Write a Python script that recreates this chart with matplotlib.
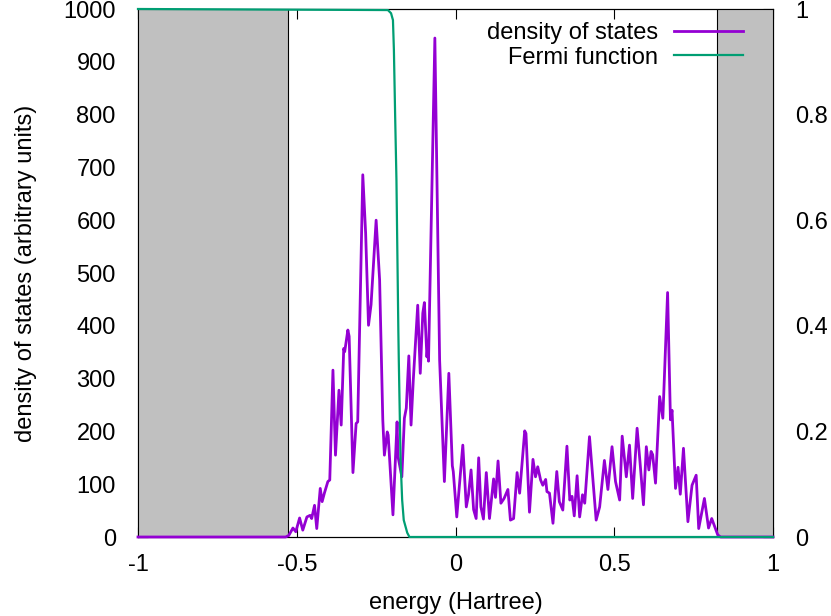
import matplotlib
matplotlib.use("Agg")
import matplotlib.pyplot as plt
from matplotlib.transforms import blended_transform_factory

plt.rcParams["font.family"] = ["Liberation Sans", "DejaVu Sans"]

# density of states
energy = [
    -1.0, -0.535, -0.525, -0.512, -0.503, -0.491, -0.481, -0.468, -0.458, -0.453,
    -0.444, -0.437, -0.426, -0.420, -0.413, -0.402, -0.396, -0.386, -0.378, -0.367,
    -0.360, -0.352, -0.349, -0.339, -0.335, -0.323, -0.313, -0.308, -0.292, -0.283,
    -0.274, -0.266, -0.250, -0.239, -0.229, -0.224, -0.215, -0.212, -0.197, -0.184,
    -0.181, -0.169, -0.161, -0.155, -0.147, -0.140, -0.133, -0.119, -0.111, -0.103,
    -0.098, -0.090, -0.087, -0.085, -0.065, -0.050, -0.035, -0.021, -0.010, -0.007,
    0.004, 0.023, 0.034, 0.041, 0.049, 0.057, 0.065, 0.073, 0.080, 0.088,
    0.097, 0.107, 0.120, 0.126, 0.134, 0.143, 0.153, 0.165, 0.173, 0.183,
    0.194, 0.202, 0.218, 0.222, 0.233, 0.244, 0.252, 0.259, 0.268, 0.275,
    0.284, 0.288, 0.296, 0.307, 0.319, 0.327, 0.338, 0.351, 0.360, 0.367,
    0.374, 0.383, 0.391, 0.400, 0.407, 0.422, 0.443, 0.454, 0.469, 0.480,
    0.493, 0.504, 0.517, 0.525, 0.538, 0.548, 0.558, 0.572, 0.581, 0.592,
    0.601, 0.609, 0.616, 0.621, 0.630, 0.643, 0.653, 0.668, 0.677, 0.682,
    0.693, 0.701, 0.708, 0.718, 0.732, 0.745, 0.758, 0.766, 0.784, 0.797,
    0.807, 0.826, 0.835, 1.0,
]
dos = [
    0, 0, 3, 17, 10, 36, 13, 38, 41, 35,
    60, 16, 92, 67, 83, 105, 108, 316, 155, 278,
    212, 357, 351, 392, 380, 122, 215, 218, 686, 575,
    401, 440, 600, 487, 222, 155, 199, 193, 42, 218,
    152, 114, 225, 244, 343, 212, 297, 439, 310, 424,
    444, 341, 364, 333, 945, 335, 105, 310, 135, 124,
    38, 174, 57, 80, 127, 52, 35, 150, 57, 34,
    122, 35, 110, 75, 144, 64, 73, 90, 32, 35,
    122, 83, 201, 196, 47, 147, 114, 133, 108, 98,
    109, 86, 83, 26, 124, 67, 51, 172, 70, 77,
    40, 116, 38, 80, 64, 190, 32, 57, 145, 90,
    171, 105, 70, 191, 114, 174, 73, 206, 143, 61,
    171, 127, 162, 156, 102, 266, 225, 463, 222, 240,
    92, 132, 81, 168, 29, 98, 117, 16, 73, 17,
    35, 4, 0, 0,
]

# Fermi function (right axis)
fermi_energy = [-1.0, -0.213, -0.203, -0.197, -0.194, -0.190, -0.186, -0.180,
                -0.1786, -0.173, -0.168, -0.163, -0.152, -0.145, 1.0]
fermi = [1.0, 0.998, 0.992, 0.979, 0.922, 0.795, 0.676, 0.39,
         0.335, 0.146, 0.07, 0.032, 0.008, 0.0, 0.0]

# shaded energy windows
gap_left = (-1.0, -0.526)
gap_right = (0.825, 1.0)

x_ticks = [-1, -0.5, 0, 0.5, 1]
x_ticklabels = ["-1", "-0.5", "0", "0.5", "1"]
y_ticks = list(range(0, 1001, 100))
y2_ticks = [0, 0.2, 0.4, 0.6, 0.8, 1.0]
y2_ticklabels = ["0", "0.2", "0.4", "0.6", "0.8", "1"]

FS = 17

fig = plt.figure(figsize=(8.31, 6.16), dpi=100)
ax = fig.add_axes([138 / 831, 79 / 616, 635 / 831, 528 / 616])
ax2 = ax.twinx()
ax.set_zorder(ax2.get_zorder() + 1)
ax.patch.set_visible(False)

ax.set_xlim(-1, 1)
ax.set_ylim(0, 1000)
ax2.set_ylim(0, 1)

for lo, hi in (gap_left, gap_right):
    ax.axvspan(lo, hi, facecolor="#c0c0c0", edgecolor="black", lw=0.8, zorder=2.6)

ax.plot(energy, dos, color="#9400d3", lw=2.0, zorder=4, label="density of states",
        clip_on=False)
fermi_tr = blended_transform_factory(ax.transData, ax2.transData)
ax.plot(fermi_energy, fermi, color="#009e73", lw=1.6, zorder=4,
        transform=fermi_tr, label="Fermi function", clip_on=False)

ax.set_xticks(x_ticks)
ax.set_xticklabels(x_ticklabels)
ax.set_yticks(y_ticks)
ax2.set_yticks(y2_ticks)
ax2.set_yticklabels(y2_ticklabels)

ax.tick_params(axis="x", direction="in", length=7, width=0.8, top=True,
               labelsize=FS, pad=12)
ax.tick_params(axis="y", direction="in", length=7, width=0.8, right=False,
               labelsize=FS, pad=16)
ax2.tick_params(axis="y", direction="in", length=7, width=0.8, labelsize=FS, pad=16)
for a in (ax, ax2):
    for s in a.spines.values():
        s.set_linewidth(0.8)

ax.set_xlabel("energy (Hartree)", fontsize=FS, labelpad=12)
ax.set_ylabel("density of states (arbitrary units)", fontsize=FS, labelpad=19)

ax.legend(loc="upper right", bbox_to_anchor=(1 - 16 / 635, 1 + 1 / 528),
          frameon=False, markerfirst=False, fontsize=FS,
          handlelength=2.9, handletextpad=0.7, labelspacing=0.1,
          borderaxespad=0, borderpad=0.6)

fig.savefig("out.png", dpi=100)
